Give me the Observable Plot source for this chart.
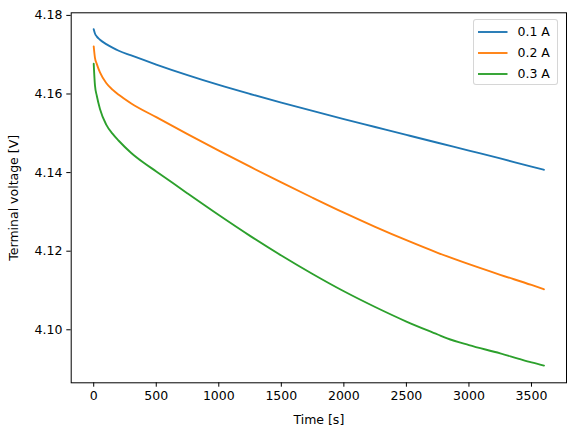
<!DOCTYPE html>
<html>
<head>
<meta charset="utf-8">
<script src="https://cdn.jsdelivr.net/npm/d3@7"></script>
<script src="https://cdn.jsdelivr.net/npm/@observablehq/plot@0.6"></script>
<style>
  html, body { margin: 0; padding: 0; background: #fff; }
  #wrap { position: relative; width: 576px; height: 435px; font-family: "DejaVu Sans", sans-serif; }
  #legend { position: absolute; left: 473px; top: 19px; width: 85px; height: 66px;
    border: 1px solid rgba(204,204,204,0.8); border-radius: 3px; background: rgba(255,255,255,0.8);
    box-sizing: border-box; font-size: 12.5px; color: #000; }
  .row { position: absolute; left: 4px; height: 14px; display: flex; align-items: center; }
  .row svg { display: block; }
  .row span { margin-left: 10px; line-height: 14px; }
</style>
</head>
<body>
<div id="wrap"></div>
<script>
const times = [0, 10, 25, 50, 100, 150, 200, 300, 500, 750, 1000, 1250, 1500, 1750, 2000, 2250, 2500, 2750, 3000, 3250, 3500, 3600];
const v01 = [4.1765, 4.1754, 4.1746, 4.1738, 4.1727, 4.1718, 4.1710, 4.1698, 4.1675, 4.1648, 4.1623, 4.1600, 4.1578, 4.1557, 4.1536, 4.1516, 4.1496, 4.1476, 4.1456, 4.1436, 4.1415, 4.1407];
const v02 = [4.1721, 4.1692, 4.1676, 4.1655, 4.1628, 4.1611, 4.1598, 4.1576, 4.1541, 4.1498, 4.1456, 4.1415, 4.1375, 4.1336, 4.1298, 4.1262, 4.1228, 4.1196, 4.1167, 4.1140, 4.1114, 4.1103];
const times03 = [0, 10, 25, 50, 100, 150, 200, 300, 400, 500, 750, 1000, 1250, 1500, 1750, 2000, 2250, 2500, 2750, 2826, 3000, 3250, 3400, 3500, 3600];
const v03 = [4.1677, 4.1622, 4.1595, 4.1562, 4.1522, 4.1499, 4.1481, 4.1450, 4.1425, 4.1403, 4.1347, 4.1292, 4.1239, 4.1189, 4.1142, 4.1098, 4.1058, 4.1021, 4.0988, 4.0978, 4.0961, 4.0940, 4.0926, 4.0917, 4.0909];
const seriesNames = ["0.1 A", "0.2 A", "0.3 A"];
const seriesColors = ["#1f77b4", "#ff7f0e", "#2ca02c"];
const xTicks = [0, 500, 1000, 1500, 2000, 2500, 3000, 3500];
const yTicks = [4.10, 4.12, 4.14, 4.16, 4.18];

const data = [];
times.forEach((t, i) => data.push({t, v: v01[i], s: seriesNames[0]}));
times.forEach((t, i) => data.push({t, v: v02[i], s: seriesNames[1]}));
times03.forEach((t, i) => data.push({t, v: v03[i], s: seriesNames[2]}));

const fontSize = 12.5;
const chart = Plot.plot({
  width: 576,
  height: 435,
  marginLeft: 70.7,
  marginRight: 10,
  marginTop: 12.3,
  marginBottom: 52.7,
  style: {fontFamily: "DejaVu Sans, sans-serif", fontSize: fontSize + "px", background: "#fff", color: "#000"},
  x: {domain: [-180, 3780]},
  y: {domain: [4.08651, 4.18066]},
  color: {domain: seriesNames, range: seriesColors},
  marks: [
    Plot.line(data, {x: "t", y: "v", z: "s", stroke: "s", strokeWidth: 1.875, curve: "monotone-x"}),
    Plot.frame({stroke: "#000", strokeWidth: 1}),
    Plot.axisX({ticks: xTicks, tickFormat: d3.format("d"), tickSize: 4.4, tickPadding: 4.4, fontSize: fontSize,
      label: "Time [s]", labelAnchor: "center", labelArrow: "none", labelOffset: 41}),
    Plot.axisY({ticks: yTicks, tickFormat: d3.format(".2f"), tickSize: 4.4, tickPadding: 4.4, fontSize: fontSize,
      label: "Terminal voltage [V]", labelAnchor: "center", labelArrow: "none", labelOffset: 62})
  ]
});
const wrap = document.getElementById("wrap");
wrap.appendChild(chart);

const legend = document.createElement("div");
legend.id = "legend";
seriesNames.forEach((name, i) => {
  const row = document.createElement("div");
  row.className = "row";
  row.style.top = (5 + i * 20.8) + "px";
  row.innerHTML = `<svg width="29.5" height="14"><line x1="0" x2="29.5" y1="7" y2="7" stroke="${seriesColors[i]}" stroke-width="1.875"/></svg><span>${name}</span>`;
  legend.appendChild(row);
});
wrap.appendChild(legend);
</script>
</body>
</html>
